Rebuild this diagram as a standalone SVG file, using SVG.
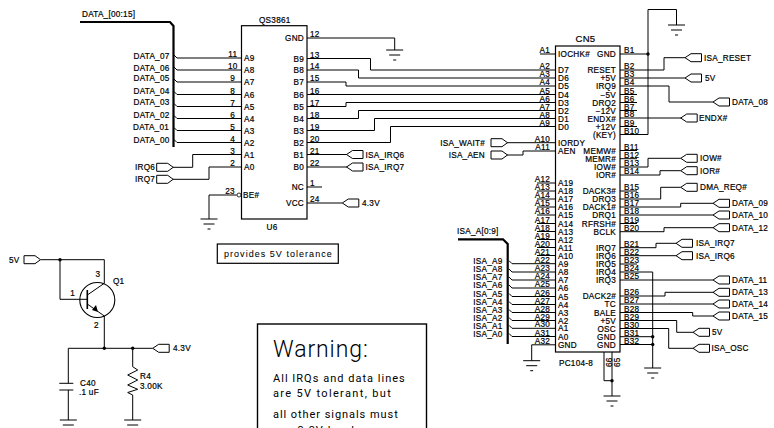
<svg xmlns="http://www.w3.org/2000/svg" width="774" height="428" viewBox="0 0 774 428">
<style>
text{font-family:"Liberation Sans",Arial,sans-serif;font-size:8.2px;letter-spacing:.25px;fill:#000;stroke:#000;stroke-width:.2}
.e{text-anchor:end}
.c{text-anchor:middle}
.w{fill:none;stroke:#000;stroke-width:1}
.b{fill:none;stroke:#000;stroke-width:2.2}
.d{fill:#000;stroke:none}
.n{font-family:Roboto,"Liberation Sans",sans-serif;font-size:11px;stroke-width:0}
</style>
<defs>
<g id="gnd" class="w"><path d="M-8.5 0H8.5M-5.5 5H5.5M-1.5 10H1.5"/></g>
<path id="pl" d="M0 0L6-4H16.5V4H6Z" fill="#fff" stroke="#000" stroke-width="1"/>
<path id="pr" d="M0-4H11L16.5 0L11 4H0Z" fill="#fff" stroke="#000" stroke-width="1"/>
</defs>
<rect width="774" height="428" fill="#fff"/>
<g id="connectors">
<path class="b" d="M80 22H170L173.5 26V147"/>
<path class="b" d="M458 239.3H503L507.7 244V344"/>
<path class="w" d="M174 55L177 58H241M174 67L177 70H241M174 79L177 82H241M174 91.5L177 94.5H241M174 103.5L177 106.5H241M174 115.5L177 118.5H241M174 127.5L177 130.5H241M174 139.5L177 142.5H241"/>
<path class="w" d="M173 167.3H192.7V154.5H241M173 179.3H209V167H241M209 219V195H236.7"/>
<path class="w" d="M307 38H394.7V50M307 58.5H370.5V70H555M307 70H358.5V78H555M307 82H346V86H555M307 94.5H555M307 106.5H346V102.5H555M307 118.5H358.5V110.5H555M307 130.5H374.5V118.5H555M307 142.5H390.5V126.5H555"/>
<path class="w" d="M307 154.5H347M307 167H347M307 187H322M307 203H342.3"/>
<path class="w" d="M507 142.7H555M507 155H523V151H555"/>
<path class="w" d="M540 54H555M537 183H555M537 191H555M537 199H555M537 207H555M537 215H555M537 223.5H555M537 231.5H555M537 239.5H555M537 247.5H555M537 255.5H555"/>
<path class="w" d="M509 260.7L512 263.7H555M509 269L512 272H555M509 277L512 280H555M509 285L512 288H555M509 293.5L512 296.5H555M509 301.5L512 304.5H555M509 309.5L512 312.5H555M509 317.5L512 320.5H555M509 325.3L512 328.3H555M509 333.5L512 336.5H555"/>
<path class="w" d="M555 344.8H531.7V360.7"/>
<path class="w" d="M620 54H648M648 134.5V9.5H676.5V25M620 70H664V57.7H685M620 78H685M620 86H669V102H713M620 94.5H637M620 102.5H637M620 110.5H637M620 118H681M620 126.5H637M620 134.5H648"/>
<path class="w" d="M620 150.5H637M620 158.7H637M620 167H648V158.3H680.7M620 175H660V170.7H680.7M620 191H637M620 199H660.7V187.3H680.7M620 207H680.7V203.3H713M620 215H713M620 223.5H637M620 231.7H664V227.7H713M620 247.7H656V243.3H676M620 255.7H676M620 264H637M620 272H652.7V368M620 280H713M620 296H665V292.3H713M620 304H713M620 312.5H692.7V316H713M620 320.5H676.7V332.3H693M620 328.5H668.7V348.3H693M620 336.7H652.7M620 344.5H652.7"/>
<path class="w" d="M604 352V380.7H612M612 352V396"/>
<path class="w" d="M40.7 259.7H104.3V283.3M60 259.7V299.3H87.3M104.3 316V348.3M68.3 383.3V348.3H152.7M132.7 348.3V366.7L137.7 370L127.7 375L137.7 380L127.7 385L137.7 389.3L127.7 392.5L132.7 395V420M68.3 390V420"/>
</g>
<g id="dots" class="d">
<circle cx="648" cy="54" r="1.7"/><circle cx="652.7" cy="336.7" r="1.7"/><circle cx="652.7" cy="344.5" r="1.7"/><circle cx="612" cy="380.7" r="1.7"/><circle cx="60" cy="259.7" r="1.7"/><circle cx="104.3" cy="348.3" r="1.7"/><circle cx="132.7" cy="348.3" r="1.7"/>
</g>
<g id="grounds">
<use href="#gnd" x="394.7" y="50"/><use href="#gnd" x="676.5" y="25"/><use href="#gnd" x="209" y="219"/><use href="#gnd" x="531.7" y="360.7"/><use href="#gnd" x="652.7" y="368"/><use href="#gnd" x="612" y="396"/><use href="#gnd" x="68.3" y="420"/><use href="#gnd" x="132.7" y="420"/>
</g>
<g id="bus-labels">
<text x="82" y="17">DATA_[00:15]</text>
<text x="457" y="234">ISA_A[0:9]</text>
<text class="e" x="169.5" y="59">DATA_07</text><text class="e" x="169.5" y="71">DATA_06</text><text class="e" x="169.5" y="81">DATA_05</text><text class="e" x="169.5" y="94">DATA_04</text><text class="e" x="169.5" y="105">DATA_03</text><text class="e" x="169.5" y="118">DATA_02</text><text class="e" x="169" y="130">DATA_01</text><text class="e" x="169.5" y="143">DATA_00</text>
<text class="e" x="502.5" y="264">ISA_A9</text><text class="e" x="502.5" y="272">ISA_A8</text><text class="e" x="502.5" y="280">ISA_A7</text><text class="e" x="502.5" y="288">ISA_A6</text><text class="e" x="502.5" y="297">ISA_A5</text><text class="e" x="502.5" y="305">ISA_A4</text><text class="e" x="502.5" y="313">ISA_A3</text><text class="e" x="502.5" y="321">ISA_A2</text><text class="e" x="502.5" y="329">ISA_A1</text><text class="e" x="502.5" y="337">ISA_A0</text>
</g>
<g id="U6">
<rect x="241.5" y="25.7" width="65.5" height="193.3" fill="#fff" stroke="#000" stroke-width="1.2"/>
<circle cx="239" cy="195" r="2" fill="#fff" stroke="#000" stroke-width=".8"/>
<text x="259" y="23">QS3861</text><text class="c" x="272" y="230">U6</text>
<text x="244" y="60.5">A9</text><text x="244" y="73">A8</text><text x="244" y="85">A7</text><text x="244" y="97.5">A6</text><text x="244" y="109.5">A5</text><text x="244" y="121.5">A4</text><text x="244" y="133.5">A3</text><text x="244" y="145.5">A2</text><text x="244" y="157.5">A1</text><text x="244" y="170">A0</text><text x="243" y="198">BE#</text>
<text class="e" x="304" y="41">GND</text><text class="e" x="304" y="61.5">B9</text><text class="e" x="304" y="73">B8</text><text class="e" x="304" y="85">B7</text><text class="e" x="304" y="97.5">B6</text><text class="e" x="304" y="109.5">B5</text><text class="e" x="304" y="121.5">B4</text><text class="e" x="304" y="133.5">B3</text><text class="e" x="304" y="145.5">B2</text><text class="e" x="304" y="157.5">B1</text><text class="e" x="304" y="170">B0</text><text class="e" x="304" y="190">NC</text><text class="e" x="304" y="206">VCC</text>
<text class="c" x="232.7" y="57">11</text><text class="c" x="232.7" y="69">10</text><text class="c" x="232.7" y="81">9</text><text class="c" x="232.7" y="93.5">8</text><text class="c" x="232.7" y="105.5">7</text><text class="c" x="232.7" y="117.5">6</text><text class="c" x="232.7" y="129.5">5</text><text class="c" x="232.7" y="141.5">4</text><text class="c" x="232.7" y="153.5">3</text><text class="c" x="232.7" y="166">2</text><text class="c" x="230" y="194">23</text>
<text x="310" y="37">12</text><text x="310" y="57.5">13</text><text x="310" y="69">14</text><text x="310" y="81">15</text><text x="310" y="93.5">16</text><text x="310" y="105.5">17</text><text x="310" y="117.5">18</text><text x="310" y="129.5">19</text><text x="310" y="141.5">20</text><text x="310" y="153.5">21</text><text x="310" y="166">22</text><text x="310" y="186">1</text><text x="310" y="202">24</text>
</g>
<g id="U6-note">
<rect x="217.3" y="244" width="121" height="19.3" fill="#fff" stroke="#000" stroke-width="1.2"/>
<text x="224" y="256.5" textLength="108" lengthAdjust="spacing" style="font-size:9px;stroke-width:.05">provides 5V tolerance</text>
</g>
<g id="CN5">
<rect x="555.5" y="46" width="64.5" height="306" fill="#fff" stroke="#000" stroke-width="1.2"/>
<text class="c" x="585.5" y="42" style="font-size:9.5px">CN5</text><text x="559" y="366">PC104-8</text>
<text transform="translate(611.5 367) rotate(-90)">66</text><text transform="translate(619.5 367) rotate(-90)">65</text>
<g>
<text x="558" y="57">IOCHK#</text><text x="558" y="73">D7</text><text x="558" y="81">D6</text><text x="558" y="89">D5</text><text x="558" y="97.5">D4</text><text x="558" y="105.5">D3</text><text x="558" y="113.5">D2</text><text x="558" y="121.5">D1</text><text x="558" y="129.5">D0</text><text x="558" y="145.5">IORDY</text><text x="558" y="154">AEN</text>
<text x="558" y="186">A19</text><text x="558" y="194">A18</text><text x="558" y="202">A17</text><text x="558" y="210">A16</text><text x="558" y="218">A15</text><text x="558" y="226.5">A14</text><text x="558" y="234.5">A13</text><text x="558" y="242.5">A12</text><text x="558" y="250.5">A11</text><text x="558" y="258.5">A10</text>
<text x="558" y="266.7">A9</text><text x="558" y="275">A8</text><text x="558" y="283">A7</text><text x="558" y="291">A6</text><text x="558" y="299.5">A5</text><text x="558" y="307.5">A4</text><text x="558" y="315.5">A3</text><text x="558" y="323.5">A2</text><text x="558" y="331.3">A1</text><text x="558" y="339.5">A0</text><text x="558" y="348">GND</text>
</g>
<g class="pins-a">
<text class="e" x="550" y="53">A1</text><text class="e" x="550" y="69">A2</text><text class="e" x="550" y="77">A3</text><text class="e" x="550" y="85">A4</text><text class="e" x="550" y="93.5">A5</text><text class="e" x="550" y="101.5">A6</text><text class="e" x="550" y="109.5">A7</text><text class="e" x="550" y="117.5">A8</text><text class="e" x="550" y="125.5">A9</text><text class="e" x="550" y="141.5">A10</text><text class="e" x="550" y="150">A11</text>
<text class="e" x="550" y="182">A12</text><text class="e" x="550" y="190">A13</text><text class="e" x="550" y="198">A14</text><text class="e" x="550" y="206">A15</text><text class="e" x="550" y="214">A16</text><text class="e" x="550" y="222.5">A17</text><text class="e" x="550" y="230.5">A18</text><text class="e" x="550" y="238.5">A19</text><text class="e" x="550" y="246.5">A20</text><text class="e" x="550" y="254.5">A21</text><text class="e" x="550" y="262.7">A22</text><text class="e" x="550" y="271">A23</text><text class="e" x="550" y="279">A24</text><text class="e" x="550" y="287">A25</text><text class="e" x="550" y="295.5">A26</text><text class="e" x="550" y="303.5">A27</text><text class="e" x="550" y="311.5">A28</text><text class="e" x="550" y="319.5">A29</text><text class="e" x="550" y="327.3">A30</text><text class="e" x="550" y="335.5">A31</text><text class="e" x="550" y="343.8">A32</text>
</g>
<g>
<text class="e" x="616" y="57">GND</text><text class="e" x="616" y="73">RESET</text><text class="e" x="616" y="81">+5V</text><text class="e" x="616" y="89">IRQ9</text><text class="e" x="616" y="97.5">−5V</text><text class="e" x="616" y="105.5">DRQ2</text><text class="e" x="616" y="113.5">−12V</text><text class="e" x="616" y="121.5">ENDX#</text><text class="e" x="616" y="129.5">+12V</text><text class="e" x="616" y="137.5">(KEY)</text>
<text class="e" x="616" y="153.5">MEMW#</text><text class="e" x="616" y="161.7">MEMR#</text><text class="e" x="616" y="170">IOW#</text><text class="e" x="616" y="178">IOR#</text><text class="e" x="616" y="194">DACK3#</text><text class="e" x="616" y="202">DRQ3</text><text class="e" x="616" y="210">DACK1#</text><text class="e" x="616" y="218">DRQ1</text><text class="e" x="616" y="226.5">RFRSH#</text><text class="e" x="616" y="234.7">BCLK</text>
<text class="e" x="616" y="250.7">IRQ7</text><text class="e" x="616" y="258.7">IRQ6</text><text class="e" x="616" y="267">IRQ5</text><text class="e" x="616" y="275">IRQ4</text><text class="e" x="616" y="283">IRQ3</text><text class="e" x="616" y="299">DACK2#</text><text class="e" x="616" y="307">TC</text><text class="e" x="616" y="315.5">BALE</text><text class="e" x="616" y="323.5">+5V</text><text class="e" x="616" y="331.5">OSC</text><text class="e" x="616" y="339.7">GND</text><text class="e" x="616" y="347.5">GND</text>
</g>
<g class="pins-b">
<text x="624" y="53">B1</text><text x="624" y="69">B2</text><text x="624" y="77">B3</text><text x="624" y="85">B4</text><text x="624" y="93.5">B5</text><text x="624" y="101.5">B6</text><text x="624" y="109.5">B7</text><text x="624" y="117">B8</text><text x="624" y="125.5">B9</text><text x="624" y="133.5">B10</text>
<text x="624" y="149.5">B11</text><text x="624" y="157.7">B12</text><text x="624" y="166">B13</text><text x="624" y="174">B14</text><text x="624" y="190">B15</text><text x="624" y="198">B16</text><text x="624" y="206">B17</text><text x="624" y="214">B18</text><text x="624" y="222.5">B19</text><text x="624" y="230.7">B20</text>
<text x="624" y="246.7">B21</text><text x="624" y="254.7">B22</text><text x="624" y="263">B23</text><text x="624" y="271">B24</text><text x="624" y="279">B25</text><text x="624" y="295">B26</text><text x="624" y="303">B27</text><text x="624" y="311.5">B28</text><text x="624" y="319.5">B29</text><text x="624" y="327.5">B30</text><text x="624" y="335.7">B31</text><text x="624" y="343.5">B32</text>
</g>
</g>
<g id="ports">
<g id="p-irq6"><use href="#pr" x="156.7" y="167.3"/><text x="135" y="170">IRQ6</text></g>
<g id="p-irq7"><use href="#pr" x="156.7" y="179.3"/><text x="135" y="182">IRQ7</text></g>
<g id="p-u6-isa-irq6"><use href="#pl" x="346.5" y="154.5"/><text x="365.5" y="157.5">ISA_IRQ6</text></g>
<g id="p-u6-isa-irq7"><use href="#pl" x="346.5" y="167"/><text x="365.5" y="170">ISA_IRQ7</text></g>
<g id="p-u6-43v"><use href="#pl" x="342.3" y="203"/><text x="362" y="206">4.3V</text></g>
<g id="p-wait"><use href="#pr" x="491" y="142.7"/><text class="e" x="485" y="145.7">ISA_WAIT#</text></g>
<g id="p-aen"><use href="#pr" x="491" y="155"/><text class="e" x="485" y="158">ISA_AEN</text></g>
<g id="p-reset"><use href="#pl" x="685" y="57.7"/><text x="704" y="60.7">ISA_RESET</text></g>
<g id="p-5v-a"><use href="#pl" x="685" y="78"/><text x="705" y="81">5V</text></g>
<g id="p-d08"><use href="#pl" x="713" y="102"/><text x="732" y="105">DATA_08</text></g>
<g id="p-endx"><use href="#pl" x="680.7" y="118"/><text x="699" y="121">ENDX#</text></g>
<g id="p-iow"><use href="#pl" x="680.7" y="158.3"/><text x="700" y="161.3">IOW#</text></g>
<g id="p-ior"><use href="#pl" x="680.7" y="170.7"/><text x="700" y="173.7">IOR#</text></g>
<g id="p-dma"><use href="#pl" x="680.7" y="187.3"/><text x="700" y="190.3">DMA_REQ#</text></g>
<g id="p-d09"><use href="#pl" x="713" y="203.3"/><text x="732" y="206.3">DATA_09</text></g>
<g id="p-d10"><use href="#pl" x="713" y="215"/><text x="732" y="218">DATA_10</text></g>
<g id="p-d12"><use href="#pl" x="713" y="227.7"/><text x="732" y="230.7">DATA_12</text></g>
<g id="p-cn-irq7"><use href="#pl" x="676" y="243.3"/><text x="696" y="246.3">ISA_IRQ7</text></g>
<g id="p-cn-irq6"><use href="#pl" x="676" y="255.7"/><text x="696" y="258.7">ISA_IRQ6</text></g>
<g id="p-d11"><use href="#pl" x="713" y="280"/><text x="732" y="283">DATA_11</text></g>
<g id="p-d13"><use href="#pl" x="713" y="292.3"/><text x="732" y="295.3">DATA_13</text></g>
<g id="p-d14"><use href="#pl" x="713" y="304"/><text x="732" y="307">DATA_14</text></g>
<g id="p-d15"><use href="#pl" x="713" y="316"/><text x="732" y="319">DATA_15</text></g>
<g id="p-5v-b"><use href="#pl" x="693" y="332.3"/><text x="712" y="335.3">5V</text></g>
<g id="p-osc"><use href="#pl" x="693" y="348.3"/><text x="711.5" y="351.3">ISA_OSC</text></g>
<g id="p-5v-q"><use href="#pr" x="24" y="259.7"/><text x="9" y="262.7">5V</text></g>
<g id="p-43v-q"><use href="#pl" x="152.7" y="348.3"/><text x="173" y="351.3">4.3V</text></g>
</g>
<g id="Q1">
<circle cx="97.3" cy="300" r="17.5" fill="none" stroke="#000" stroke-width="1.1"/>
<path d="M87.3 290V309" fill="none" stroke="#000" stroke-width="1.6"/>
<path class="w" d="M87.3 295L104.3 283.3M87.3 304L104.3 316"/>
<path class="d" d="M98 312L92 310L96 305Z"/>
<text x="98" y="276.5" class="c">3</text><text x="72.7" y="295.5" class="c">1</text><text x="96.3" y="328" class="c">2</text><text x="113" y="284">Q1</text>
</g>
<g id="C40">
<path class="w" d="M59.3 383.3H73.3M59.3 390H73.3"/>
<text x="80" y="385.7">C40</text><text x="79" y="394.7">.1 uF</text>
</g>
<g id="R4">
<text x="140" y="379">R4</text><text x="140" y="389">3.00K</text>
</g>
<g id="warning">
<rect x="257.5" y="324" width="169" height="120" fill="#fff" stroke="#000" stroke-width="1.4"/>
<text x="273" y="356.5" textLength="95" lengthAdjust="spacing" style="font-family:Roboto,sans-serif;font-weight:300;font-size:23px;stroke-width:0">Warning:</text>
<text x="273" y="381.7" textLength="132" lengthAdjust="spacing" class="n">All IRQs and data lines</text>
<text x="273" y="397.3" textLength="118" lengthAdjust="spacing" class="n">are 5V tolerant, but</text>
<text x="273" y="417.7" textLength="125" lengthAdjust="spacing" class="n">all other signals must</text>
<text x="273" y="434" textLength="88" lengthAdjust="spacing" class="n">use 3.3V levels</text>
</g>
</svg>
